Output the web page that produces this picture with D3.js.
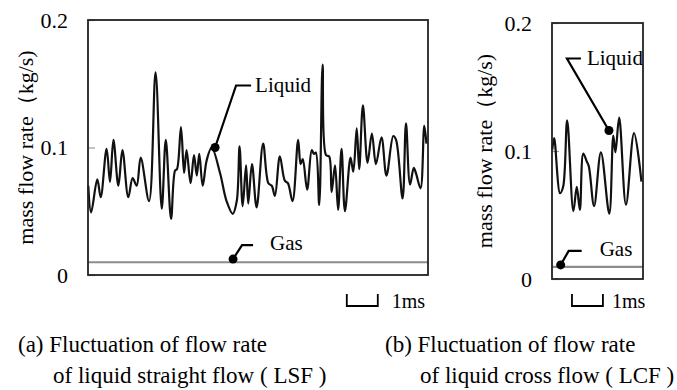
<!DOCTYPE html>
<html>
<head>
<meta charset="utf-8">
<script src="https://cdn.jsdelivr.net/npm/d3@7"></script>
<style>
body { margin: 0; background: #fff; }
text { font-family: "Liberation Serif", "Times New Roman", serif; fill: #000; }
</style>
</head>
<body>
<svg id="chart" width="677" height="390"></svg>
<script>
// time in ms, mass flow rate in kg/s
var lsfTime = [0.01,0.10,0.30,0.41,0.60,0.71,0.82,0.98,1.11,1.30,1.44,1.57,1.70,1.97,2.18,2.38,2.51,2.68,2.81,2.87,
  3.00,3.10,3.18,3.31,3.42,3.51,3.59,3.70,3.83,3.99,4.26,4.47,4.67,4.80,4.89,4.99,5.10,5.17,5.29,5.44,
  5.65,5.82,5.93,6.03,6.19,6.35,6.45,6.60,6.78,6.86,6.93,7.07,7.22,7.29,7.35,7.46,7.57,7.68,7.78,7.86,
  7.97,8.07,8.18,8.29,8.47,8.56,8.67,8.75,8.87,9.02,9.16,9.29,9.47,9.63,9.85,9.94,10.15,10.26,10.39,10.51,
  10.58,10.73,10.85,10.92];
var lsfLiquid = [0.070,0.049,0.075,0.061,0.099,0.073,0.106,0.070,0.098,0.061,0.076,0.070,0.092,0.058,0.159,0.052,0.106,0.044,0.082,0.083,
  0.116,0.080,0.098,0.072,0.094,0.078,0.095,0.070,0.090,0.100,0.080,0.058,0.048,0.058,0.101,0.054,0.086,0.056,0.087,0.053,
  0.103,0.072,0.070,0.062,0.093,0.074,0.072,0.058,0.106,0.087,0.091,0.067,0.098,0.095,0.096,0.055,0.165,0.094,0.093,0.065,
  0.086,0.051,0.099,0.050,0.092,0.081,0.115,0.083,0.133,0.088,0.111,0.087,0.108,0.078,0.109,0.106,0.060,0.119,0.071,0.084,
  0.080,0.068,0.117,0.103];
var lsfGas = 0.010;

var lcfTime = [0.01,0.07,0.26,0.36,0.49,0.69,0.80,0.90,1.01,1.12,1.19,1.36,1.58,1.85,1.98,2.05,2.17,2.39,2.65,2.89];
var lcfLiquid = [0.101,0.110,0.067,0.072,0.124,0.053,0.072,0.054,0.098,0.092,0.088,0.057,0.099,0.051,0.112,0.099,0.126,0.058,0.114,0.076];
var lcfGas = 0.0095;

var yTicks = [0, 0.1, 0.2];
var yTickLabels = ["0", "0.1", "0.2"];
var yTitle = "mass flow rate\uFF08kg/s)";
var lsfCaption = ["(a) Fluctuation of flow rate", "of liquid straight flow ( LSF )"];
var lcfCaption = ["(b) Fluctuation of flow rate", "of liquid cross flow ( LCF )"];

var svg = d3.select("#chart");

var panels = [
  {time: lsfTime, liquid: lsfLiquid, gas: lsfGas, caption: lsfCaption,
   left: 88, right: 428, bottom: 275, top: 20, span: 10.97, titleX: 33,
   liquidDot: [4.10, 0.100], liquidLeader: [[21,-62],[36,-62]], liquidText: [40,-56],
   gasDot: [4.68, 0.0125], gasLeader: [[9,-14],[20,-14]], gasText: [37,-9],
   barStart: 8.35, barTextGap: 14, capX: [18, 53]},
  {time: lcfTime, liquid: lcfLiquid, gas: lcfGas, caption: lcfCaption,
   left: 552, right: 643, bottom: 279, top: 23, span: 2.94, titleX: 492,
   liquidDot: [1.84, 0.116], liquidLeader: [[-42,-72],[-28,-72]], liquidText: [-22,-66],
   gasDot: [0.28, 0.011], gasLeader: [[8,-14],[21,-14]], gasText: [39,-9],
   barStart: 0.645, barTextGap: 9, capX: [385, 420]}
];

panels.forEach(function(p) {
  var x = d3.scaleLinear().domain([0, p.span]).range([p.left, p.right]);
  var y = d3.scaleLinear().domain([0, 0.2]).range([p.bottom, p.top]);

  // y axis: short grey ticks inside the frame, labels outside
  var ax = svg.append("g")
      .attr("transform", "translate(" + p.left + ",0)")
      .call(d3.axisLeft(y).tickValues(yTicks)
        .tickFormat(function(d, i) { return yTickLabels[i]; })
        .tickSizeInner(-7).tickSizeOuter(0).tickPadding(20));
  ax.select(".domain").remove();
  ax.selectAll(".tick line").attr("stroke", "#999").attr("stroke-width", 1.2);
  ax.selectAll(".tick text")
      .style("font-family", "'Liberation Serif', serif")
      .style("font-size", "22px").attr("fill", "#000");

  svg.append("text")
      .attr("transform", "translate(" + p.titleX + "," + ((p.top + p.bottom) / 2) + ") rotate(-90)")
      .attr("text-anchor", "middle")
      .style("font-size", "22px")
      .text(yTitle);

  // gas line
  svg.append("line")
      .attr("x1", x(0)).attr("x2", x(p.span))
      .attr("y1", y(p.gas)).attr("y2", y(p.gas))
      .attr("stroke", "#8c8c8c").attr("stroke-width", 2.2);

  // liquid line
  var pts = p.time.map(function(t, i) { return [t, p.liquid[i]]; });
  var line = d3.line()
      .x(function(d) { return x(d[0]); })
      .y(function(d) { return y(d[1]); })
      .curve(d3.curveCatmullRom.alpha(0.5));
  svg.append("path")
      .datum(pts)
      .attr("d", line)
      .attr("fill", "none")
      .attr("stroke", "#111")
      .attr("stroke-width", 2.2)
      .attr("stroke-linejoin", "round");

  // frame
  svg.append("rect")
      .attr("x", p.left).attr("y", p.top)
      .attr("width", p.right - p.left).attr("height", p.bottom - p.top)
      .attr("fill", "none").attr("stroke", "#222").attr("stroke-width", 1.8);

  // annotations
  function annotate(dot, leader, off, label) {
    var dx = x(dot[0]), dy = y(dot[1]);
    var path = d3.path();
    path.moveTo(dx, dy);
    leader.forEach(function(l) { path.lineTo(dx + l[0], dy + l[1]); });
    svg.append("path").attr("d", path.toString())
        .attr("fill", "none").attr("stroke", "#000").attr("stroke-width", 2.2);
    svg.append("circle").attr("cx", dx).attr("cy", dy).attr("r", 4.5).attr("fill", "#000");
    svg.append("text").attr("x", dx + off[0]).attr("y", dy + off[1])
        .style("font-size", "21px").text(label);
  }
  annotate(p.liquidDot, p.liquidLeader, p.liquidText, "Liquid");
  annotate(p.gasDot, p.gasLeader, p.gasText, "Gas");

  // 1 ms scale bar
  var b0 = x(p.barStart), b1 = x(p.barStart + 1);
  svg.append("path")
      .attr("d", "M" + b0 + ",294V306H" + b1 + "V294")
      .attr("fill", "none").attr("stroke", "#000").attr("stroke-width", 1.8);
  svg.append("text").attr("x", b1 + p.barTextGap).attr("y", 308)
      .style("font-size", "20px").text("1ms");

  // caption
  p.caption.forEach(function(c, i) {
    svg.append("text").attr("x", p.capX[i]).attr("y", 352 + i * 31)
        .style("font-size", "23px").text(c);
  });
});
</script>
</body>
</html>
